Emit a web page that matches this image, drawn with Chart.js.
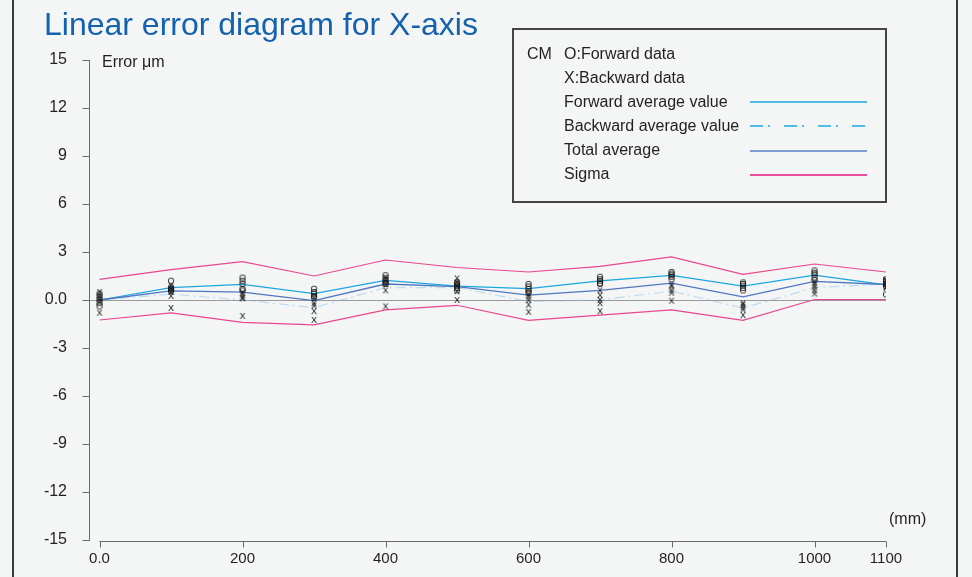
<!DOCTYPE html>
<html>
<head>
<meta charset="utf-8">
<script src="https://cdn.jsdelivr.net/npm/chart.js@4"></script>
<style>
  html, body { margin: 0; padding: 0; background: #f4f5f5; }
  #wrap { position: relative; width: 972px; height: 577px; overflow: hidden; font-family: "Liberation Sans", Arial, sans-serif; color: #231f20; }
  #wrap canvas { position: absolute; left: 0; top: 0; }
  .txt { position: absolute; line-height: 1; white-space: nowrap; font-size: 16px; }
  #title { left: 44px; top: 8px; font-size: 32px; color: #1462ad; }
  .frame { position: absolute; top: 0; width: 2px; height: 577px; background: #3a3a3a; }
  #legend { position: absolute; left: 512px; top: 28px; width: 375px; height: 175px; box-sizing: border-box; border: 2px solid #444; }
  .sample { position: absolute; left: 750px; }
</style>
</head>
<body>
<div id="wrap">
  <canvas id="grafico" width="972" height="577"></canvas>
  <div class="frame" style="left:12px"></div>
  <div class="frame" style="left:956px"></div>
  <div id="title" class="txt">Linear error diagram for X-axis</div>
  <div class="txt" style="left:102px; top:54px">Error μm</div>
  <div class="txt" style="left:889px; top:511px">(mm)</div>
  <div id="legend"></div>
  <div class="txt" style="left:527px; top:46px">CM</div>
  <div class="txt" style="left:564px; top:46px">O:Forward data</div>
  <div class="txt" style="left:564px; top:70px">X:Backward data</div>
  <div class="txt" style="left:564px; top:94px">Forward average value</div>
  <div class="txt" style="left:564px; top:118px">Backward average value</div>
  <div class="txt" style="left:564px; top:142px">Total average</div>
  <div class="txt" style="left:564px; top:166px">Sigma</div>
  <svg class="sample" style="top:96px" width="117" height="60">
    <line x1="0" y1="6" x2="117" y2="6" stroke="#1ba6e0" stroke-width="1.3"/>
    <line x1="0" y1="30" x2="117" y2="30" stroke="#1ba6e0" stroke-width="1.3" stroke-dasharray="13 5 2 14"/>
  </svg>
  <svg class="sample" style="top:145px" width="117" height="40">
    <line x1="0" y1="6" x2="117" y2="6" stroke="#5a7fc4" stroke-width="1.5"/>
    <line x1="0" y1="30" x2="117" y2="30" stroke="#e5157f" stroke-width="1.3"/>
  </svg>
</div>
<script>
// posiciones del eje X (mm)
const posiciones = [0, 100, 200, 300, 400, 500, 600, 700, 800, 900, 1000, 1100];
const ticksX = [0, 200, 400, 600, 800, 1000, 1100];

// promedios
const promedioAdelante = [0, 0.77, 0.98, 0.4, 1.23, 0.87, 0.71, 1.2, 1.54, 0.87, 1.56, 0.94];
const promedioAtras = [0, 0.37, 0.0, -0.48, 0.77, 0.78, -0.1, 0.0, 0.56, -0.5, 0.77, 1.0];
const promedioTotal = [0, 0.57, 0.49, -0.04, 1.0, 0.83, 0.31, 0.6, 1.05, 0.19, 1.16, 0.97];
const sigmaSup = [1.29, 1.9, 2.4, 1.5, 2.5, 2.03, 1.75, 2.1, 2.7, 1.6, 2.25, 1.75];
const sigmaInf = [-1.25, -0.8, -1.4, -1.56, -0.62, -0.33, -1.27, -0.94, -0.62, -1.27, 0.03, 0.03];

// mediciones individuales (ida)
const adelante1 = [0.4, 1.2, 1.4, 0.7, 1.55, 1.1, 1.0, 1.45, 1.75, 1.1, 1.85, 1.3];
const adelante2 = [0.2, 0.8, 1.2, 0.5, 1.35, 1.0, 0.85, 1.3, 1.65, 1.0, 1.7, 1.2];
const adelante3 = [0.0, 0.7, 1.0, 0.4, 1.2, 0.9, 0.7, 1.2, 1.55, 0.9, 1.6, 1.0];
const adelante4 = [-0.2, 0.6, 0.7, 0.25, 1.05, 0.75, 0.55, 1.05, 1.45, 0.75, 1.4, 0.85];
const adelante5 = [-0.4, 0.55, 0.6, 0.15, 1.0, 0.6, 0.45, 1.0, 1.3, 0.6, 1.25, 0.35];
// mediciones individuales (vuelta)
const atras1 = [0.5, 0.9, 0.45, 0.1, 1.4, 1.35, 0.35, 0.6, 0.95, -0.2, 1.1, 1.25];
const atras2 = [0.3, 0.7, 0.3, -0.2, 1.25, 1.1, 0.2, 0.3, 0.85, -0.3, 0.95, 1.15];
const atras3 = [0.1, 0.5, 0.15, -0.35, 1.0, 0.9, 0.0, 0.0, 0.6, -0.45, 0.8, 1.0];
const atras4 = [-0.1, 0.25, 0.1, -0.7, 0.6, 0.55, -0.3, -0.2, 0.45, -0.6, 0.6, 0.85];
const atras5 = [-0.8, -0.5, -1.0, -1.25, -0.4, 0.0, -0.75, -0.7, -0.05, -0.95, 0.4, 0.75];

function puntos(valores) {
  return valores.map((v, i) => ({ x: posiciones[i], y: v }));
}

function glifo(ch) {
  const c = document.createElement("canvas");
  c.width = 8;
  c.height = 10;
  const g = c.getContext("2d");
  g.fillStyle = "#111";
  g.font = "9px 'Liberation Sans', Arial";
  g.textAlign = "center";
  g.textBaseline = "middle";
  g.fillText(ch, 4, 5.5);
  return c;
}
const marcaO = glifo("O");
const marcaX = glifo("X");

function marcas(valores, marca) {
  return {
    data: puntos(valores),
    showLine: false,
    pointStyle: marca,
    pointRadius: 4,
    pointHoverRadius: 4,
  };
}

function linea(valores, color, ancho, dash) {
  return {
    data: puntos(valores),
    borderColor: color,
    borderWidth: ancho,
    borderDash: dash || [],
    pointRadius: 0,
    fill: false,
    tension: 0,
  };
}

// ejes dibujados a mano (eje Y separado del eje X)
const ejes = {
  id: "ejes",
  beforeDatasetsDraw(chart) {
    const { ctx, scales: { x, y } } = chart;
    ctx.save();
    ctx.strokeStyle = "#9a9a9a";
    ctx.lineWidth = 1;
    const y0 = Math.round(y.getPixelForValue(0)) + 0.5;
    ctx.beginPath();
    ctx.moveTo(x.left, y0);
    ctx.lineTo(x.getPixelForValue(1100), y0);
    ctx.stroke();
    ctx.restore();
  },
  afterDraw(chart) {
    const { ctx, scales: { x, y } } = chart;
    ctx.save();
    ctx.strokeStyle = "#6a6a6a";
    ctx.lineWidth = 1;
    const xa = Math.round(x.left) + 0.5;
    ctx.beginPath();
    ctx.moveTo(xa, y.getPixelForValue(15));
    ctx.lineTo(xa, y.getPixelForValue(-15) + 1);
    y.ticks.forEach((t) => {
      const py = Math.round(y.getPixelForValue(t.value)) + 0.5;
      ctx.moveTo(xa - 7, py);
      ctx.lineTo(xa, py);
    });
    const yb = Math.round(y.getPixelForValue(-15)) + 1.5;
    ctx.moveTo(x.getPixelForValue(0), yb);
    ctx.lineTo(x.getPixelForValue(1100), yb);
    ticksX.forEach((v) => {
      const px = Math.round(x.getPixelForValue(v)) + 0.5;
      ctx.moveTo(px, yb);
      ctx.lineTo(px, yb + 6);
    });
    ctx.stroke();
    ctx.restore();
  },
};

function cargarGrafico() {
  new Chart(document.getElementById("grafico"), {
    type: "line",
    data: {
      datasets: [
        marcas(adelante1, marcaO),
        marcas(adelante2, marcaO),
        marcas(adelante3, marcaO),
        marcas(adelante4, marcaO),
        marcas(adelante5, marcaO),
        marcas(atras1, marcaX),
        marcas(atras2, marcaX),
        marcas(atras3, marcaX),
        marcas(atras4, marcaX),
        marcas(atras5, marcaX),
        linea(promedioTotal, "#5077c2", 1.3),
        linea(promedioAdelante, "#1ba6e0", 1.2),
        linea(promedioAtras, "rgba(120,190,235,0.45)", 1.2, [10, 4, 2, 4]),
        linea(sigmaSup, "#e8488f", 1.2),
        linea(sigmaInf, "#e8488f", 1.2),
      ],
    },
    options: {
      responsive: false,
      devicePixelRatio: 1,
      animation: false,
      layout: { padding: { top: 60, right: 86, left: 0, bottom: 0 } },
      plugins: { legend: { display: false }, tooltip: { enabled: false } },
      scales: {
        x: {
          type: "linear",
          min: -14.7,
          max: 1100,
          grid: { display: false },
          border: { display: false },
          afterBuildTicks: (s) => {
            s.ticks = ticksX.map((v) => ({ value: v }));
          },
          afterFit: (s) => {
            s.height = 37;
          },
          ticks: {
            padding: 2,
            color: "#231f20",
            font: { family: "'Liberation Sans', Arial", size: 15 },
            maxRotation: 0,
            autoSkip: false,
            callback: (v) => (v === 0 ? "0.0" : v),
          },
        },
        y: {
          min: -15,
          max: 15,
          grid: { display: false },
          border: { display: false },
          afterFit: (s) => {
            s.width = 89;
          },
          ticks: {
            stepSize: 3,
            padding: 14,
            color: "#231f20",
            font: { family: "'Liberation Sans', Arial", size: 16 },
            callback: (v) => (v === 0 ? "0.0" : v),
          },
        },
      },
    },
    plugins: [ejes],
  });
}

window.addEventListener("DOMContentLoaded", cargarGrafico);
</script>
</body>
</html>
